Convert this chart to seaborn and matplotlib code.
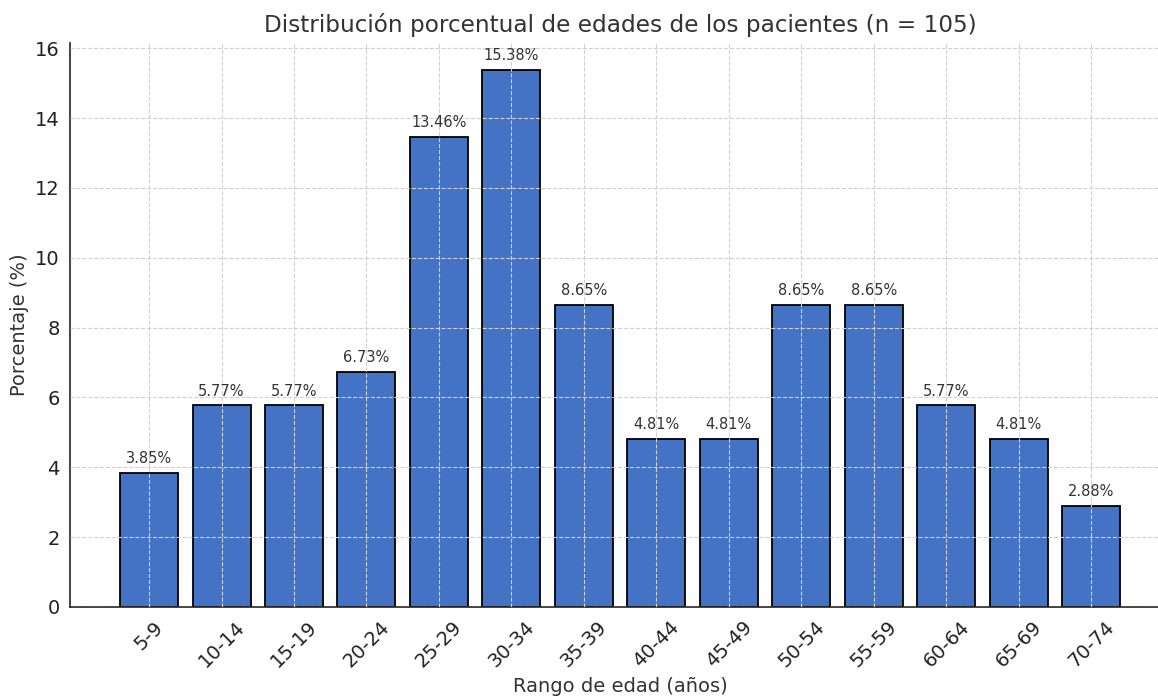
import pandas as pd
import matplotlib
matplotlib.use("Agg")
import matplotlib.pyplot as plt
import seaborn as sns

# Datos
rangos = ['5-9', '10-14', '15-19', '20-24', '25-29', '30-34', '35-39',
          '40-44', '45-49', '50-54', '55-59', '60-64', '65-69', '70-74']
porcentajes = [3.85, 5.77, 5.77, 6.73, 13.46, 15.38, 8.65,
               4.81, 4.81, 8.65, 8.65, 5.77, 4.81, 2.88]

df = pd.DataFrame({'rango': rangos, 'porcentaje': porcentajes})

sns.set_style("whitegrid", {'grid.linestyle': '--', 'grid.color': '#d0d0d0'})
plt.rcParams['font.family'] = ['DejaVu Sans']
texto = '#333333'

fig = plt.figure(figsize=(11.58, 6.96), dpi=100)
ax = fig.add_axes([0.0605, 0.1279, 0.950, 0.8103])

sns.barplot(x='rango', y='porcentaje', data=df, color='#4472C4',
            edgecolor='black', linewidth=1.3, width=0.8, saturation=1, ax=ax)

ax.set_axisbelow(False)
ax.grid(True, linestyle='--', color='#d0d0d0', linewidth=0.8)
ax.set_xlim(-1.09, 14.09)
ax.set_ylim(0, 16.15)

for c in ax.containers:
    ax.bar_label(c, labels=[f'{v:.2f}%' for v in porcentajes],
                 padding=5, fontsize=10.5, color=texto)

ax.set_title('Distribución porcentual de edades de los pacientes (n = 105)',
             fontsize=16.7, color=texto, pad=8)
ax.set_xlabel('Rango de edad (años)', fontsize=14, color=texto)
ax.set_ylabel('Porcentaje (%)', fontsize=14, color=texto)
ax.tick_params(axis='x', labelsize=14, labelrotation=45, colors='#222222', length=4)
ax.tick_params(axis='y', labelsize=14, colors='#222222', length=4)
for lab in ax.get_xticklabels():
    lab.set_ha('center')

for s in ['top', 'right']:
    ax.spines[s].set_visible(False)
for s in ['left', 'bottom']:
    ax.spines[s].set_color('#222222')
    ax.spines[s].set_linewidth(1.2)

fig.savefig('out.png', dpi=100)
